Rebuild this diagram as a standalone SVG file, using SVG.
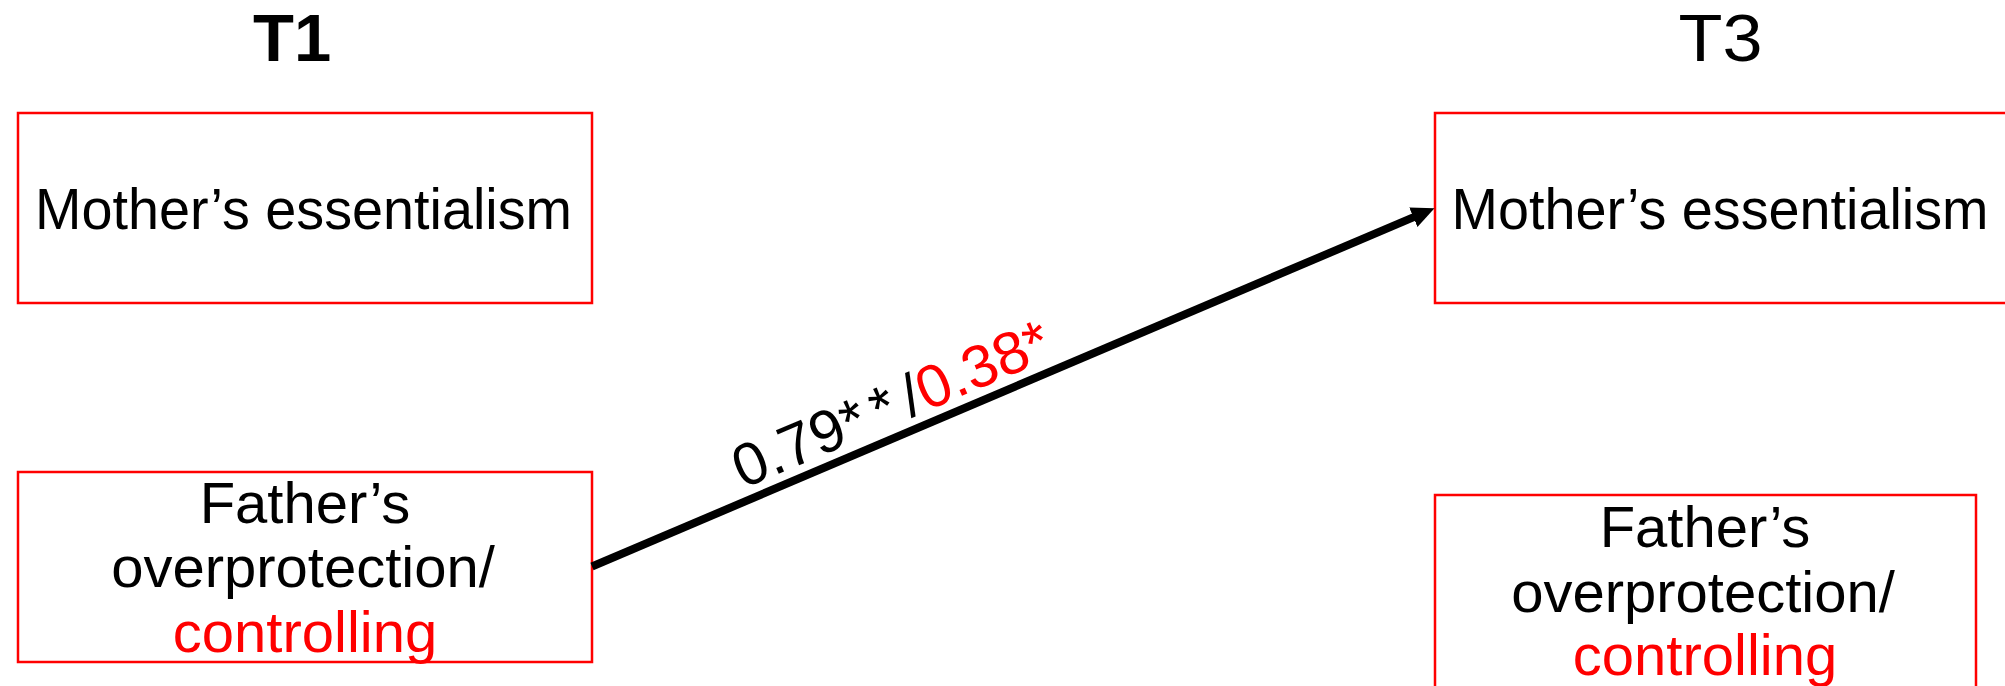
<svg xmlns="http://www.w3.org/2000/svg" width="2005" height="686" viewBox="0 0 2005 686">
<style>
  .box { fill: #ffffff; stroke: #ff0000; stroke-width: 2.5; }
  .lbl { font-family: "Liberation Sans", Arial, sans-serif; font-size: 58px; fill: #000000; }
  .red { fill: #ff0000; }
  .hdr { font-family: "Liberation Sans", Arial, sans-serif; font-size: 67px; fill: #000000; }
  .conn { stroke: #000000; stroke-width: 8; fill: none; }
</style>
<defs>
  <marker id="arrow" markerUnits="userSpaceOnUse" markerWidth="24" markerHeight="22" refX="3" refY="10.5" orient="auto" viewBox="0 0 24 22">
    <path d="M0,0 L23,10.5 L0,21 Z" fill="#000000"/>
  </marker>
</defs>
<rect width="2005" height="686" fill="#ffffff"/>
<g id="header-t1">
  <text class="hdr" x="253" y="61" font-weight="bold">T1</text>
</g>
<g id="header-t3">
  <text class="hdr" x="1678.5" y="61" textLength="84" lengthAdjust="spacingAndGlyphs">T3</text>
</g>
<g id="t1-mother">
  <rect class="box" x="18" y="113" width="574" height="190"/>
  <text class="lbl" x="35" y="229" textLength="537" lengthAdjust="spacingAndGlyphs">Mother’s essentialism</text>
</g>
<g id="t3-mother">
  <rect class="box" x="1435" y="113" width="580" height="190"/>
  <text class="lbl" x="1451.5" y="229" textLength="537" lengthAdjust="spacingAndGlyphs">Mother’s essentialism</text>
</g>
<g id="t1-father">
  <rect class="box" x="18" y="472" width="574" height="190"/>
  <text class="lbl" x="305" y="522.7" text-anchor="middle">Father’s</text>
  <text class="lbl" x="303" y="586.7" text-anchor="middle">overprotection/</text>
  <text class="lbl red" x="305" y="651.7" text-anchor="middle">controlling</text>
</g>
<g id="t3-father">
  <rect class="box" x="1435" y="495" width="541" height="194"/>
  <text class="lbl" x="1705" y="547.3" text-anchor="middle">Father’s</text>
  <text class="lbl" x="1703" y="612.3" text-anchor="middle">overprotection/</text>
  <text class="lbl red" x="1705" y="675" text-anchor="middle">controlling</text>
</g>
<g id="connectors">
  <line class="conn" x1="592" y1="566.5" x2="1416.1" y2="216.1" marker-end="url(#arrow)"/>
  <text class="lbl" style="font-size:60px" transform="translate(743.1,489.1) rotate(-23.04)">0.79*<tspan dx="9">*</tspan><tspan dx="10">/</tspan><tspan class="red">0.38*</tspan></text>
</g>
</svg>
